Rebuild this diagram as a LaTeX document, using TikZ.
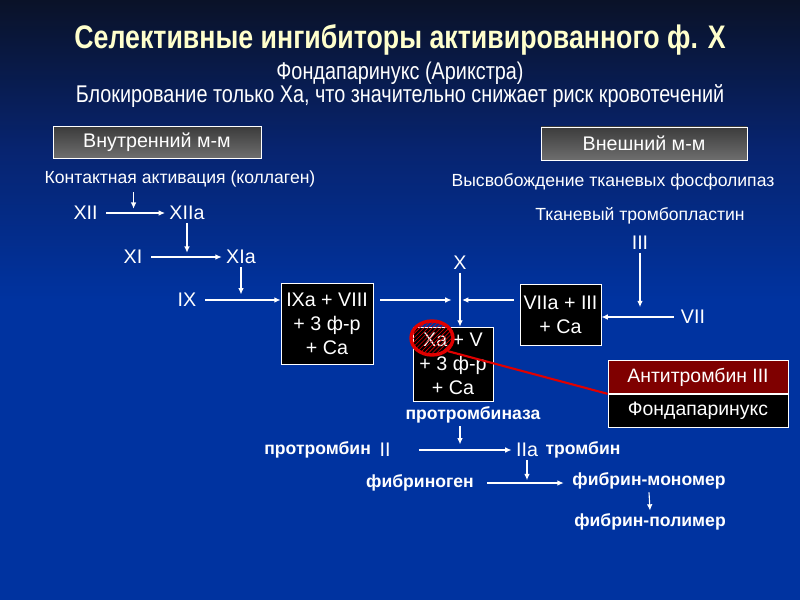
\documentclass[tikz,border=0pt]{standalone}
\usepackage{fontspec}
\setmainfont{Liberation Sans}
\setsansfont{Liberation Sans}
\newfontfamily\narrowfont[FakeStretch=0.82]{Liberation Sans}
\usetikzlibrary{arrows.meta,positioning,calc,shapes.geometric,patterns}
\definecolor{bgtop}{HTML}{0A1228}
\definecolor{bgmid}{HTML}{072470}
\definecolor{bgbot}{HTML}{0033A0}
\definecolor{titlec}{HTML}{FFFFCC}
\definecolor{grtop}{HTML}{3C3C3C}
\definecolor{grbot}{HTML}{6E6E6E}
\definecolor{atred}{HTML}{7F0000}
\definecolor{hlred}{HTML}{E00000}

\begin{document}
\begin{tikzpicture}[font=\sffamily, >={Latex[length=4.5pt,width=4pt]}]
\useasboundingbox (0,0) rectangle (20,15);
\fill[bgbot] (0,0) rectangle (20,15);
\shade[top color=bgtop, bottom color=bgbot, middle color=bgmid] (0,7.5) rectangle (20,15);
\tikzset{lbl/.style={text=white, font=\fontsize{14}{16}\selectfont, inner sep=2pt},
  blbl/.style={text=white, font=\bfseries\fontsize{12.5}{15}\selectfont, inner sep=2pt},
  txt/.style={text=white, font=\fontsize{12.5}{15}\selectfont},
  cplx/.style={draw=white, fill=black, text=white, align=center, line width=0.6pt, inner sep=0pt, font=\fontsize{14}{17}\selectfont},
  mech/.style={draw=white, top color=grtop, bottom color=grbot, text=white, line width=0.6pt, font=\fontsize{14}{16}\selectfont},
  atbox/.style={draw=white, text=white, line width=0.6pt, minimum width=4.5cm, minimum height=0.82cm, font=\fontsize{13.8}{16}\selectfont},
  arr/.style={->, white, line width=0.8pt}}
% title
\node[text=titlec, font=\narrowfont\bfseries\fontsize{23.2}{26}\selectfont] (title) at (10,14.0) {Селективные ингибиторы активированного ф. Х};
\node[text=white, font=\narrowfont\fontsize{17.2}{20}\selectfont] (sub1) at (10,13.17) {Фондапаринукс (Арикстра)};
\node[text=white, font=\narrowfont\fontsize{17.2}{20}\selectfont] (sub2) at (10,12.6) {Блокирование только Ха, что значительно снижает риск кровотечений};
% mechanisms
\node[mech, minimum width=5.2cm, minimum height=0.78cm] (intr) at (3.925,11.44) {Внутренний м-м};
\node[mech, minimum width=5.15cm, minimum height=0.83cm] (extr) at (16.1,11.41) {Внешний м-м};
\node[txt] (contact) at (4.5,10.525) {Контактная активация (коллаген)};
\node[txt] (release) at (15.325,10.45) {Высвобождение тканевых фосфолипаз};
\node[txt] (tissue) at (16,9.6) {Тканевый тромбопластин};
% factors
\foreach \nm/\xx/\yy/\lab in {xii/2.14/9.675/XII, xiia/4.675/9.675/XIIa, xi/3.325/8.575/XI, xia/6.025/8.575/XIa, ix/4.675/7.5/IX, xlab/11.5/8.425/X, iii/16/8.925/III, vii/17.325/7.075/VII, ii/9.625/3.75/II, iia/13.175/3.75/IIa}{\node[lbl] (\nm) at (\xx,\yy) {\lab};}
% complexes
\node[cplx, minimum width=2.3cm, minimum height=2.025cm] (ixa) at (8.175,6.9125) {IXa + VIII\\+ 3 ф-р\\+ Ca};
\node[cplx, minimum width=2.0cm, minimum height=1.85cm] (xa) at (11.325,5.9) {Xa + V\\+ 3 ф-р\\+ Ca};
\node[cplx, minimum width=2.025cm, minimum height=1.525cm] (viia) at (14.0125,7.1375) {VIIa + III\\+ Ca};
% common pathway
\node[blbl] (ptase) at (11.825,4.625) {протромбиназа};
\node[blbl] (pthr) at (7.94,3.75) {протромбин};
\node[blbl] (thr) at (14.575,3.75) {тромбин};
\node[blbl] (fbg) at (10.5,2.925) {фибриноген};
\node[blbl] (mono) at (16.225,2.975) {фибрин-мономер};
\node[blbl] (poly) at (16.25,1.95) {фибрин-полимер};
% inhibitors
\node[atbox, fill=atred] (at) at (17.45,5.575) {Антитромбин III};
\node[atbox, fill=black, below=0pt of at] (fonda) {Фондапаринукс};
% joins
\coordinate (m1) at ($(xii.east)!0.5!(xiia.west)$);
\coordinate (m2) at (xiia |- xi);
\coordinate (m3) at (xia |- ix);
\coordinate (xjoin) at (xlab |- ix);
\coordinate (vjoin) at (iii |- vii);
\coordinate (m4) at (xlab |- ii);
\coordinate (m5) at (iia |- fbg);
% arrows
\draw[arr, shorten <=4pt, shorten >=1pt] (xii) -- (xiia);
\draw[arr, shorten <=4pt, shorten >=1pt] (xi) -- (xia);
\draw[arr, shorten <=4pt] (ix.east) -- (ix.east -| ixa.west);
\draw[arr, shorten >=3pt] (contact.south -| m1) -- (m1);
\draw[arr, shorten >=3pt] (xiia.south) -- (m2);
\draw[arr, shorten >=4pt] (xia.south) -- (m3);
\draw[arr, shorten <=5pt, shorten >=6pt] (ixa.east |- xjoin) -- (xjoin);
\draw[arr, shorten <=4pt, shorten >=1.5pt] (viia.west |- xjoin) -- (xjoin);
\draw[arr] (xlab.south) -- (xlab |- xa.north);
\draw[arr, shorten >=7pt] (iii.south) -- (vjoin);
\draw[arr, shorten <=3pt] (vii.west) -- (vii.west -| viia.east);
\draw[arr, shorten >=4pt] (ptase.south -| m4) -- (m4);
\draw[arr, shorten <=18pt, shorten >=1pt] (ii.east) -- (iia.west);
\draw[arr, shorten >=2pt] (iia.south) -- (m5);
\draw[arr, shorten <=7pt, shorten >=4pt] (fbg.east) -- (fbg.east -| mono.west);
\draw[arr] (mono.south) -- (poly.north);
% blocked Xa
\node[ellipse, draw=hlred, line width=2.4pt, pattern=north east lines, pattern color=hlred, minimum width=1.05cm, minimum height=0.85cm, inner sep=0pt] (blk) at (10.8,6.55) {};
\draw[hlred, line width=1.5pt] (blk.south east) -- (at.south west);
\end{tikzpicture}
\end{document}
